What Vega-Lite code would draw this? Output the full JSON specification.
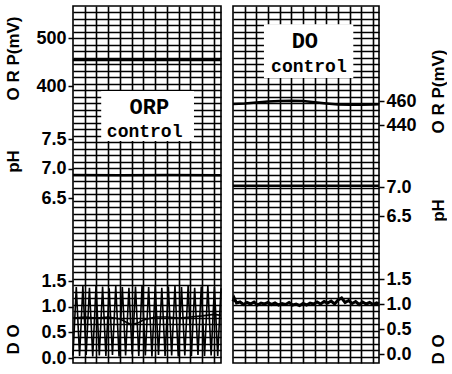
{
  "$schema": "https://vega.github.io/schema/vega-lite/v6.json",
  "padding": {"left": 3, "top": 5, "right": 0, "bottom": 0},
  "background": "white",
  "spacing": 12,
  "bounds": "flush",
  "config": {
    "view": {"stroke": "black", "strokeWidth": 1.6},
    "axis": {
      "labelFont": "Liberation Sans", "labelFontWeight": "bold", "labelFontSize": 18, "labelColor": "black",
      "tickColor": "black", "tickSize": 5, "tickWidth": 1.5, "domain": false, "grid": false,
      "titleFont": "Liberation Sans", "titleFontWeight": "bold", "titleFontSize": 17, "titleColor": "black",
      "labelPadding": 2, "titleBaseline": "middle", "titleAlign": "center"
    },
    "line": {"color": "black", "strokeWidth": 2.5}
  },
  "datasets": {
    "leftORP": [{"t": 0, "v": 454}, {"t": 3, "v": 454.3}, {"t": 6, "v": 454}, {"t": 9, "v": 454.2}, {"t": 12.6, "v": 454}],
    "leftPH": [{"t": 0, "v": 6.89}, {"t": 4, "v": 6.885}, {"t": 8, "v": 6.89}, {"t": 12.6, "v": 6.885}],
    "leftDO": [
      {"s": "a", "t": 0, "v": 0.05}, {"s": "a", "t": 0.28, "v": 1.38}, {"s": "a", "t": 0.56, "v": 0.04}, {"s": "a", "t": 0.84, "v": 1.40},
      {"s": "a", "t": 1.12, "v": 0.06}, {"s": "a", "t": 1.40, "v": 1.37}, {"s": "a", "t": 1.68, "v": 0.03}, {"s": "a", "t": 1.96, "v": 1.41},
      {"s": "a", "t": 2.24, "v": 0.05}, {"s": "a", "t": 2.52, "v": 1.39}, {"s": "a", "t": 2.80, "v": 0.04}, {"s": "a", "t": 3.08, "v": 1.36},
      {"s": "a", "t": 3.36, "v": 0.06}, {"s": "a", "t": 3.64, "v": 1.40}, {"s": "a", "t": 3.92, "v": 0.03}, {"s": "a", "t": 4.20, "v": 1.38},
      {"s": "a", "t": 4.48, "v": 0.05}, {"s": "a", "t": 4.76, "v": 1.37}, {"s": "a", "t": 5.04, "v": 0.07}, {"s": "a", "t": 5.32, "v": 1.39},
      {"s": "a", "t": 5.60, "v": 0.04}, {"s": "a", "t": 5.88, "v": 1.41}, {"s": "a", "t": 6.16, "v": 0.05}, {"s": "a", "t": 6.44, "v": 1.38},
      {"s": "a", "t": 6.72, "v": 0.03}, {"s": "a", "t": 7.00, "v": 1.40}, {"s": "a", "t": 7.28, "v": 0.06}, {"s": "a", "t": 7.56, "v": 1.37},
      {"s": "a", "t": 7.84, "v": 0.04}, {"s": "a", "t": 8.12, "v": 1.39}, {"s": "a", "t": 8.40, "v": 0.05}, {"s": "a", "t": 8.68, "v": 1.41},
      {"s": "a", "t": 8.96, "v": 0.03}, {"s": "a", "t": 9.24, "v": 1.38}, {"s": "a", "t": 9.52, "v": 0.05}, {"s": "a", "t": 9.80, "v": 1.40},
      {"s": "a", "t": 10.08, "v": 0.04}, {"s": "a", "t": 10.36, "v": 1.37}, {"s": "a", "t": 10.64, "v": 0.06}, {"s": "a", "t": 10.92, "v": 1.39},
      {"s": "a", "t": 11.20, "v": 0.04}, {"s": "a", "t": 11.48, "v": 1.41}, {"s": "a", "t": 11.76, "v": 0.05}, {"s": "a", "t": 12.04, "v": 1.38},
      {"s": "a", "t": 12.32, "v": 0.04}, {"s": "a", "t": 12.6, "v": 1.36},
      {"s": "b", "t": 0, "v": 0.78}, {"s": "b", "t": 1, "v": 0.80}, {"s": "b", "t": 2, "v": 0.78}, {"s": "b", "t": 3, "v": 0.80},
      {"s": "b", "t": 4, "v": 0.76}, {"s": "b", "t": 4.5, "v": 0.70}, {"s": "b", "t": 5, "v": 0.65}, {"s": "b", "t": 5.5, "v": 0.68},
      {"s": "b", "t": 6, "v": 0.74}, {"s": "b", "t": 7, "v": 0.80}, {"s": "b", "t": 8, "v": 0.80}, {"s": "b", "t": 9, "v": 0.78},
      {"s": "b", "t": 10, "v": 0.80}, {"s": "b", "t": 11, "v": 0.82}, {"s": "b", "t": 12, "v": 0.85}, {"s": "b", "t": 12.6, "v": 0.83}
    ],
    "rightORP": [{"t": 0, "v": 457.5}, {"t": 1, "v": 458}, {"t": 2, "v": 458.8}, {"t": 3, "v": 459.5}, {"t": 4, "v": 460}, {"t": 5, "v": 460.2}, {"t": 6, "v": 460}, {"t": 7, "v": 459}, {"t": 8, "v": 458}, {"t": 9, "v": 457}, {"t": 10, "v": 456.8}, {"t": 11, "v": 456.8}, {"t": 12, "v": 457}, {"t": 12.5, "v": 457.2}],
    "rightPH": [{"t": 0, "v": 7.02}, {"t": 4, "v": 7.02}, {"t": 8, "v": 7.02}, {"t": 12.5, "v": 7.02}],
    "rightDO": [
      {"t": 0, "v": 1.05}, {"t": 0.1, "v": 1.12}, {"t": 0.3, "v": 1.02}, {"t": 0.6, "v": 1.04}, {"t": 0.9, "v": 0.99}, {"t": 1.2, "v": 1.03},
      {"t": 1.5, "v": 1.0}, {"t": 1.8, "v": 1.04}, {"t": 2.1, "v": 0.98}, {"t": 2.4, "v": 1.02}, {"t": 2.7, "v": 1.0}, {"t": 3.0, "v": 1.03},
      {"t": 3.3, "v": 0.99}, {"t": 3.6, "v": 1.02}, {"t": 3.9, "v": 0.98}, {"t": 4.2, "v": 1.01}, {"t": 4.5, "v": 0.99}, {"t": 4.8, "v": 1.03},
      {"t": 5.1, "v": 0.98}, {"t": 5.4, "v": 1.0}, {"t": 5.7, "v": 0.97}, {"t": 6.0, "v": 1.01}, {"t": 6.3, "v": 0.98}, {"t": 6.6, "v": 1.02},
      {"t": 6.9, "v": 1.0}, {"t": 7.2, "v": 1.04}, {"t": 7.5, "v": 1.0}, {"t": 7.8, "v": 1.05}, {"t": 8.1, "v": 1.02}, {"t": 8.4, "v": 1.06},
      {"t": 8.7, "v": 1.0}, {"t": 9.0, "v": 1.08}, {"t": 9.3, "v": 1.12}, {"t": 9.6, "v": 1.03}, {"t": 9.9, "v": 1.07}, {"t": 10.2, "v": 1.01},
      {"t": 10.5, "v": 1.05}, {"t": 10.8, "v": 0.99}, {"t": 11.1, "v": 1.04}, {"t": 11.4, "v": 1.0}, {"t": 11.7, "v": 1.03}, {"t": 12.0, "v": 0.99},
      {"t": 12.3, "v": 1.02}, {"t": 12.5, "v": 1.0}
    ]
  },
  "hconcat": [
    {
      "width": 148, "height": 357,
      "resolve": {"scale": {"x": "independent", "y": "independent"}, "axis": {"x": "independent", "y": "independent"}},
      "layer": [
        {
          "data": {"values": [{"t": 0, "d": 0}]},
          "mark": {"type": "point", "opacity": 0},
          "encoding": {
            "x": {"field": "t", "type": "quantitative", "title": null, "scale": {"domain": [0, 12.6], "nice": false, "zero": false},
                  "axis": {"values": [1, 2, 3, 4, 5, 6, 7, 8, 9, 10, 11, 12], "grid": true, "gridColor": "black", "gridWidth": 1.6, "gridOpacity": 1, "labels": false, "ticks": false, "domain": false}},
            "y": {"field": "d", "type": "quantitative", "title": null, "scale": {"domain": [0, 55], "nice": false, "zero": false},
                  "axis": {"orient": "left", "grid": true, "gridColor": "black", "gridWidth": 1.5, "gridOpacity": 1, "labels": false, "ticks": false, "domain": false,
                           "values": [1,2,3,4,5,6,7,8,9,10,11,12,13,14,15,16,17,18,19,20,21,22,23,24,25,26,27,28,29,30,31,32,33,34,35,36,37,38,39,40,41,42,43,44,45,46,47,48,49,50,51,52,53,54]}}
          }
        },
        {
          "data": {"values": [{}]},
          "mark": {"type": "rect", "color": "white"},
          "encoding": {
            "x": {"datum": 2.4, "type": "quantitative", "axis": null, "scale": {"domain": [0, 12.6], "nice": false, "zero": false}}, "x2": {"datum": 10.3},
            "y": {"datum": 34.2, "type": "quantitative", "axis": null, "scale": {"domain": [0, 55], "nice": false, "zero": false}}, "y2": {"datum": 41.9}
          }
        },
        {
          "data": {"values": [{}]},
          "mark": {"type": "text", "font": "Liberation Mono", "fontWeight": "bold", "fontSize": 22, "color": "black"},
          "encoding": {
            "x": {"datum": 6.5, "type": "quantitative", "axis": null, "scale": {"domain": [0, 12.6], "nice": false, "zero": false}},
            "y": {"datum": 39.4, "type": "quantitative", "axis": null, "scale": {"domain": [0, 55], "nice": false, "zero": false}},
            "text": {"value": "ORP"}
          }
        },
        {
          "data": {"values": [{}]},
          "mark": {"type": "text", "font": "Liberation Mono", "fontWeight": "bold", "fontSize": 18, "color": "black"},
          "encoding": {
            "x": {"datum": 6.1, "type": "quantitative", "axis": null, "scale": {"domain": [0, 12.6], "nice": false, "zero": false}},
            "y": {"datum": 35.6, "type": "quantitative", "axis": null, "scale": {"domain": [0, 55], "nice": false, "zero": false}},
            "text": {"value": "control"}
          }
        },
        {
          "data": {"name": "leftORP"},
          "mark": {"type": "line"},
          "encoding": {
            "x": {"field": "t", "type": "quantitative", "axis": null, "scale": {"domain": [0, 12.6], "nice": false, "zero": false}},
            "y": {"field": "v", "type": "quantitative", "scale": {"domain": [400, 500], "range": [80, 32], "nice": false, "zero": false},
                  "axis": {"orient": "left", "values": [400, 500], "format": "d", "title": "O R P(mV)", "titleX": -60, "titleY": 52, "titleAngle": 270}}
          }
        },
        {
          "data": {"name": "leftPH"},
          "mark": {"type": "line"},
          "encoding": {
            "x": {"field": "t", "type": "quantitative", "axis": null, "scale": {"domain": [0, 12.6], "nice": false, "zero": false}},
            "y": {"field": "v", "type": "quantitative", "scale": {"domain": [6.5, 7.5], "range": [192, 133], "nice": false, "zero": false},
                  "axis": {"orient": "left", "values": [6.5, 7.0, 7.5], "format": ".1f", "title": "pH", "titleX": -60, "titleY": 155, "titleAngle": 270}}
          }
        },
        {
          "data": {"name": "leftDO"},
          "mark": {"type": "line", "strokeWidth": 1.6},
          "encoding": {
            "x": {"field": "t", "type": "quantitative", "axis": null, "scale": {"domain": [0, 12.6], "nice": false, "zero": false}},
            "y": {"field": "v", "type": "quantitative", "scale": {"domain": [0, 1.5], "range": [352, 275], "nice": false, "zero": false},
                  "axis": {"orient": "left", "values": [0, 0.5, 1.0, 1.5], "format": ".1f", "title": "D O", "titleX": -60, "titleY": 333, "titleAngle": 270}},
            "detail": {"field": "s", "type": "nominal"}
          }
        }
      ]
    },
    {
      "width": 146, "height": 357,
      "resolve": {"scale": {"x": "independent", "y": "independent"}, "axis": {"x": "independent", "y": "independent"}},
      "layer": [
        {
          "data": {"values": [{"t": 0, "d": 0}]},
          "mark": {"type": "point", "opacity": 0},
          "encoding": {
            "x": {"field": "t", "type": "quantitative", "title": null, "scale": {"domain": [0, 12.5], "nice": false, "zero": false},
                  "axis": {"values": [1, 2, 3, 4, 5, 6, 7, 8, 9, 10, 11, 12], "grid": true, "gridColor": "black", "gridWidth": 1.6, "gridOpacity": 1, "labels": false, "ticks": false, "domain": false}},
            "y": {"field": "d", "type": "quantitative", "title": null, "scale": {"domain": [0, 55], "nice": false, "zero": false},
                  "axis": {"orient": "right", "grid": true, "gridColor": "black", "gridWidth": 1.5, "gridOpacity": 1, "labels": false, "ticks": false, "domain": false,
                           "values": [1,2,3,4,5,6,7,8,9,10,11,12,13,14,15,16,17,18,19,20,21,22,23,24,25,26,27,28,29,30,31,32,33,34,35,36,37,38,39,40,41,42,43,44,45,46,47,48,49,50,51,52,53,54]}}
          }
        },
        {
          "data": {"values": [{}]},
          "mark": {"type": "rect", "color": "white"},
          "encoding": {
            "x": {"datum": 2.65, "type": "quantitative", "axis": null, "scale": {"domain": [0, 12.5], "nice": false, "zero": false}}, "x2": {"datum": 10.3},
            "y": {"datum": 43.9, "type": "quantitative", "axis": null, "scale": {"domain": [0, 55], "nice": false, "zero": false}}, "y2": {"datum": 52.2}
          }
        },
        {
          "data": {"values": [{}]},
          "mark": {"type": "text", "font": "Liberation Mono", "fontWeight": "bold", "fontSize": 22, "color": "black"},
          "encoding": {
            "x": {"datum": 6.15, "type": "quantitative", "axis": null, "scale": {"domain": [0, 12.5], "nice": false, "zero": false}},
            "y": {"datum": 49.6, "type": "quantitative", "axis": null, "scale": {"domain": [0, 55], "nice": false, "zero": false}},
            "text": {"value": "DO"}
          }
        },
        {
          "data": {"values": [{}]},
          "mark": {"type": "text", "font": "Liberation Mono", "fontWeight": "bold", "fontSize": 18, "color": "black"},
          "encoding": {
            "x": {"datum": 6.5, "type": "quantitative", "axis": null, "scale": {"domain": [0, 12.5], "nice": false, "zero": false}},
            "y": {"datum": 45.6, "type": "quantitative", "axis": null, "scale": {"domain": [0, 55], "nice": false, "zero": false}},
            "text": {"value": "control"}
          }
        },
        {
          "data": {"name": "rightORP"},
          "mark": {"type": "line"},
          "encoding": {
            "x": {"field": "t", "type": "quantitative", "axis": null, "scale": {"domain": [0, 12.5], "nice": false, "zero": false}},
            "y": {"field": "v", "type": "quantitative", "scale": {"domain": [440, 460], "range": [119, 95], "nice": false, "zero": false},
                  "axis": {"orient": "right", "values": [440, 460], "format": "d", "title": "O R P(mV)", "titleX": 59, "titleY": 85, "titleAngle": 270}}
          }
        },
        {
          "data": {"name": "rightPH"},
          "mark": {"type": "line"},
          "encoding": {
            "x": {"field": "t", "type": "quantitative", "axis": null, "scale": {"domain": [0, 12.5], "nice": false, "zero": false}},
            "y": {"field": "v", "type": "quantitative", "scale": {"domain": [6.5, 7.0], "range": [210, 181], "nice": false, "zero": false},
                  "axis": {"orient": "right", "values": [6.5, 7.0], "format": ".1f", "title": "pH", "titleX": 59, "titleY": 204, "titleAngle": 270}}
          }
        },
        {
          "data": {"name": "rightDO"},
          "mark": {"type": "line", "strokeWidth": 3},
          "encoding": {
            "x": {"field": "t", "type": "quantitative", "axis": null, "scale": {"domain": [0, 12.5], "nice": false, "zero": false}},
            "y": {"field": "v", "type": "quantitative", "scale": {"domain": [0, 1.5], "range": [348, 273], "nice": false, "zero": false},
                  "axis": {"orient": "right", "values": [0, 0.5, 1.0, 1.5], "format": ".1f", "title": "D O", "titleX": 59, "titleY": 343, "titleAngle": 270}}
          }
        }
      ]
    }
  ]
}
